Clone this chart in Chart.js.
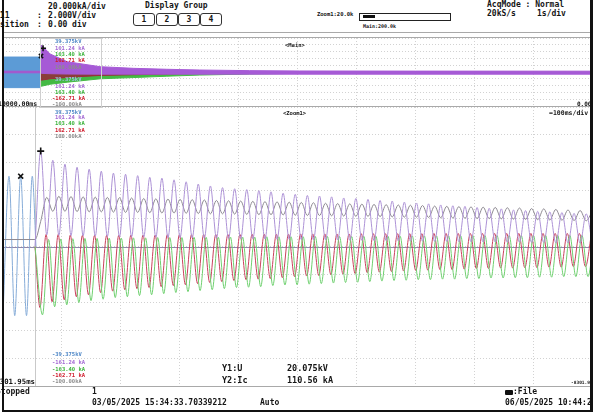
<!DOCTYPE html>
<html>
<head>
<meta charset="utf-8">
<script src="https://cdn.jsdelivr.net/npm/chart.js@4.4.1/dist/chart.umd.min.js"></script>
<style>
  body { margin: 0; background: #fff; }
  #scope { position: relative; width: 599px; height: 417px; overflow: hidden; background: #fff;
           font-family: "DejaVu Sans Mono", monospace; font-weight: bold; color: #151515; }
  .t { position: absolute; white-space: pre; font-size: 8px; line-height: 8px; }
  .s { position: absolute; white-space: pre; font-size: 5.5px; line-height: 6px; }
  .btn { position: absolute; top: 13px; width: 20px; height: 11px; border: 1px solid #333; border-radius: 3px;
         font-size: 8px; line-height: 11px; text-align: center; }
  .hl { position: absolute; height: 1px; background: #a9a9a9; }
  canvas { position: absolute; }
</style>
</head>
<body>
<div id="scope">
  <!-- header -->
  <div class="t" style="left:48px;top:3px">20.000kA/div</div>
  <div class="t" style="left:-5px;top:12px">111</div>
  <div class="t" style="left:37px;top:12px">:</div>
  <div class="t" style="left:48px;top:12px">2.000V/div</div>
  <div class="t" style="left:0px;top:21px">sition</div>
  <div class="t" style="left:37px;top:21px">:</div>
  <div class="t" style="left:48px;top:21px">0.00 div</div>
  <div class="t" style="left:145px;top:2px">Display Group</div>
  <div class="btn" style="left:133px">1</div>
  <div class="btn" style="left:156px">2</div>
  <div class="btn" style="left:178px">3</div>
  <div class="btn" style="left:200px">4</div>
  <div class="s" style="left:317px;top:11px">Zoom1:20.0k</div>
  <div style="position:absolute;left:359px;top:13px;width:90px;height:6px;border:1px solid #222"></div>
  <div style="position:absolute;left:363px;top:15px;width:12px;height:3px;background:#111"></div>
  <div class="s" style="left:363px;top:23px;font-size:5px">Main:200.0k</div>
  <div class="t" style="left:487px;top:1px">AcqMode : Normal</div>
  <div class="t" style="left:487px;top:10px">20kS/s</div>
  <div class="t" style="left:537px;top:10px">1s/div</div>
  <div class="hl" style="left:3px;top:32px;width:589px"></div>

  <canvas id="mainChart" width="589" height="68" style="left:3px;top:38px"></canvas>
  <canvas id="zoomChart" width="589" height="279" style="left:3px;top:107px"></canvas>

  <div class="hl" style="left:3px;top:37px;width:589px"></div>
  <div class="hl" style="left:3px;top:106px;width:589px"></div>
  <div class="hl" style="left:3px;top:386px;width:589px"></div>
  <div style="position:absolute;left:40px;top:38px;width:60px;height:68px;border:1px solid #cfcfcf"></div>

  <!-- panel labels -->
  <div class="s" style="left:285px;top:42px">&lt;Main&gt;</div>
  <div class="s" style="left:283px;top:110px">&lt;Zoom1&gt;</div>
  <div class="s" style="left:577px;top:101px;font-size:6px">0.00</div>
  <div class="s" style="left:549px;top:110px;font-size:6.5px">=100ms/div</div>
  <div class="s" style="left:-2px;top:101px;font-size:6.5px">10000.00ms</div>

  <!-- cursor readouts -->
  <div class="s" style="left:55px;top:38px;color:#4d86c6">39.375kV</div>
  <div class="s" style="left:55px;top:45px;color:#a46ad4">161.24 kA</div>
  <div class="s" style="left:55px;top:51px;color:#3db43d">163.40 kA</div>
  <div class="s" style="left:55px;top:57px;color:#cf1c2c">162.71 kA</div>
  <div class="s" style="left:55px;top:64px;color:#8c8c8c">100.00kA</div>
  <div class="s" style="left:55px;top:76px;color:#9cc0e0">39.375kV</div>
  <div class="s" style="left:55px;top:83px;color:#a46ad4">161.24 kA</div>
  <div class="s" style="left:55px;top:89px;color:#3db43d">163.40 kA</div>
  <div class="s" style="left:52px;top:95px;color:#cf1c2c">-162.71 kA</div>
  <div class="s" style="left:52px;top:101px;color:#8c8c8c">-100.00kA</div>

  <div class="s" style="left:55px;top:109px;color:#4d86c6">39.375kV</div>
  <div class="s" style="left:55px;top:114px;color:#a46ad4">161.24 kA</div>
  <div class="s" style="left:55px;top:120px;color:#3db43d">163.40 kA</div>
  <div class="s" style="left:55px;top:127px;color:#cf1c2c">162.71 kA</div>
  <div class="s" style="left:55px;top:133px;color:#8c8c8c">100.00kA</div>

  <div class="s" style="left:52px;top:351px;color:#4d86c6">-39.375kV</div>
  <div class="s" style="left:52px;top:359px;color:#a46ad4">-161.24 kA</div>
  <div class="s" style="left:52px;top:366px;color:#3db43d">-163.40 kA</div>
  <div class="s" style="left:52px;top:372px;color:#cf1c2c">-162.71 kA</div>
  <div class="s" style="left:52px;top:378px;color:#8c8c8c">-100.00kA</div>

  <div class="t" style="left:-9px;top:378px;font-size:7.3px">-8301.95ms</div>
  <div class="s" style="left:571px;top:380px;font-size:4.5px">-8301.95ms</div>
  <div class="t" style="left:222px;top:364px;font-size:8.5px">Y1:U</div>
  <div class="t" style="left:287px;top:364px;font-size:8.5px">20.075kV</div>
  <div class="t" style="left:222px;top:376px;font-size:8.5px">Y2:Ic</div>
  <div class="t" style="left:287px;top:376px;font-size:8.5px">110.56 kA</div>

  <!-- footer -->
  <div class="t" style="left:-4px;top:388px">Stopped</div>
  <div class="t" style="left:92px;top:388px">1</div>
  <div class="t" style="left:92px;top:399px">03/05/2025 15:34:33.70339212</div>
  <div class="t" style="left:260px;top:399px">Auto</div>
  <div style="position:absolute;left:505px;top:390px;width:8px;height:5px;background:#111;border-radius:1px"></div>
  <div class="t" style="left:513px;top:388px">:File</div>
  <div class="t" style="left:505px;top:399px">06/05/2025 10:44:23</div>

  <!-- frame -->
  <div style="position:absolute;left:2px;top:0;width:2px;height:412px;background:#111"></div>
  <div style="position:absolute;left:2px;top:410px;width:592px;height:2px;background:#111"></div>
  <div style="position:absolute;left:590px;top:0;width:3px;height:412px;background:#111"></div>
  <div style="position:absolute;left:593px;top:0;width:6px;height:417px;background:#fff"></div>
</div>

<script>
// ---- zoom window (100 ms/div), values in divisions ----
const triggerMs = 54.3;
const halfCycleMs = 10.29;

const voltTimes  = [0, 10.2, 19.9, 30.05, 39.9, 49.7, 56];
const voltValues = [-2.48, 2.52, -2.48, 2.52, -2.48, 2.52, 0];

const purpleStartMs = 64.0;
const purplePeaks = [3.42,3.09,2.95,2.84,2.77,2.70,2.63,2.59,2.54,2.48,2.45,2.39,2.32,2.24,2.17,2.11,2.07,2.04,2.00,1.96,
  1.91,1.87,1.83,1.81,1.78,1.74,1.72,1.69,1.65,1.63,1.59,1.56,1.53,1.49,1.46,1.44,1.40,1.37,1.35,1.31,1.29,1.26,1.24,1.22,1.19,1.17];
const purpleTroughs = [0.42,0.40,0.39,0.38,0.37,0.36,0.35,0.35,0.34,0.33,0.32,0.32,0.31,0.30,0.30,0.29,0.28,0.28,0.27,0.26,
  0.26,0.25,0.24,0.24,0.23,0.22,0.22,0.21,0.21,0.20,0.19,0.19,0.18,0.18,0.17,0.17,0.16,0.16,0.15,0.15,0.14,0.14,0.13,0.13,0.12,0.12];

const redStartMs = 62.8;
const redTroughs = [-2.19,-1.98,-1.91,-1.80,-1.73,-1.65,-1.60,-1.55,-1.51,-1.47,-1.44,-1.40,-1.37,-1.33,-1.29,-1.26,-1.22,-1.19,-1.17,-1.15,
  -1.12,-1.08,-1.06,-1.04,-1.01,-0.99,-0.97,-0.94,-0.92,-0.90,-0.88,-0.86,-0.85,-0.83,-0.83,-0.81,-0.79,-0.79,-0.77,-0.77,-0.76,-0.76,-0.74,-0.74,-0.72,-0.72];
const redPeaks = [0.43,0.43,0.41,0.40,0.40,0.40,0.40,0.41,0.41,0.41,0.42,0.42,0.42,0.43,0.43,0.43,0.43,0.44,0.44,0.44,
  0.44,0.45,0.45,0.45,0.45,0.45,0.46,0.46,0.46,0.46,0.46,0.46,0.47,0.47,0.47,0.47,0.47,0.47,0.47,0.47,0.47,0.47,0.47,0.47,0.47,0.47];

const greenStartMs = 67.1;
const greenTroughs = [-2.45,-2.16,-2.09,-2.01,-1.94,-1.89,-1.83,-1.80,-1.76,-1.73,-1.69,-1.65,-1.62,-1.58,-1.55,-1.51,-1.47,-1.46,-1.44,-1.40,
  -1.38,-1.37,-1.35,-1.33,-1.31,-1.29,-1.28,-1.26,-1.24,-1.22,-1.21,-1.19,-1.19,-1.17,-1.17,-1.15,-1.15,-1.13,-1.13,-1.12,-1.12,-1.10,-1.10,-1.08,-1.08,-1.08];
const greenPeaks = [0.25,0.27,0.28,0.29,0.29,0.30,0.30,0.31,0.31,0.32,0.32,0.32,0.33,0.33,0.33,0.34,0.34,0.34,0.35,0.35,
  0.35,0.35,0.36,0.36,0.36,0.36,0.37,0.37,0.37,0.37,0.38,0.38,0.38,0.38,0.38,0.39,0.39,0.39,0.39,0.39,0.40,0.40,0.40,0.40,0.40,0.40];

const grayPreLevel = 0.25;
const grayStartMs = 64.0;
const grayTroughs = [0.90,1.26,1.26,1.25,1.24,1.24,1.23,1.22,1.22,1.21,1.20,1.20,1.19,1.18,1.17,1.17,1.16,1.15,1.14,1.14,
  1.13,1.12,1.11,1.11,1.10,1.09,1.08,1.08,1.07,1.06,1.05,1.05,1.04,1.03,1.02,1.01,1.00,1.00,0.99,0.98,0.97,0.96,0.95,0.94,0.93,0.92];
const grayPeaks = [1.76,1.80,1.79,1.78,1.77,1.76,1.75,1.74,1.72,1.71,1.70,1.69,1.68,1.67,1.65,1.64,1.63,1.62,1.61,1.60,
  1.59,1.58,1.57,1.55,1.54,1.53,1.52,1.51,1.50,1.49,1.48,1.47,1.45,1.44,1.43,1.42,1.41,1.40,1.39,1.38,1.36,1.35,1.33,1.31,1.29,1.27];

// ---- main window (1 s/div), envelope of the dense trace ----
const mainTimes = [0, 0.64, 0.65, 0.80, 1.09, 1.65, 2.21, 2.78, 3.34, 4.19, 5.04, 7.0, 10.0];
const purpleHi  = [0.12, 0.12, 3.97, 2.65, 1.51, 0.78, 0.54, 0.40, 0.29, 0.20, 0.15, 0.13, 0.12];
const purpleLo  = [-0.12, -0.12, -0.20, -0.25, -0.30, -0.32, -0.32, -0.32, -0.32, -0.32, -0.32, -0.32, -0.32];
const redLo     = [0, 0, -1.20, -1.00, -0.80, -0.50, -0.40, -0.30, -0.18, -0.10, -0.05, -0.03, -0.03];
const greenLo   = [0, 0, -2.10, -1.80, -1.50, -1.00, -0.82, -0.62, -0.45, -0.30, -0.20, -0.10, -0.08];
const voltBandTimes = [0, 0.645];
const voltBandHi = [2.2, 2.2];
const voltBandLo = [-2.3, -2.3];
const dullFromSec = 8.1;

const mainCursors = [{x: 0.68, y: 3.5}, {x: 0.645, y: 2.35}];

function wave(t0, first, second, lead) {
  const pts = lead.slice();
  first.forEach((v, i) => {
    pts.push({x: t0 + 2 * i * halfCycleMs, y: v});
    pts.push({x: t0 + (2 * i + 1) * halfCycleMs, y: second[i]});
  });
  return pts;
}
const zip = (xs, ys) => xs.map((x, i) => ({x, y: ys[i]}));

const refLines = {
  id: 'refLines',
  beforeDatasetsDraw(chart, args, opts) {
    const {ctx, chartArea, scales} = chart;
    ctx.save();
    ctx.lineWidth = 1;
    if (opts.zeroColor) {
      const y = Math.round(scales.y.getPixelForValue(0)) + 0.5;
      ctx.strokeStyle = opts.zeroColor;
      ctx.beginPath(); ctx.moveTo(chartArea.left, y); ctx.lineTo(chartArea.right, y); ctx.stroke();
    }
    if (opts.trigger != null) {
      const x = Math.round(scales.x.getPixelForValue(opts.trigger)) + 0.5;
      ctx.strokeStyle = '#c9c9c9';
      ctx.beginPath(); ctx.moveTo(x, chartArea.top); ctx.lineTo(x, chartArea.bottom); ctx.stroke();
    }
    ctx.restore();
  }
};

function scaleOpts(min, max, step) {
  return {
    type: 'linear', min, max,
    ticks: {display: false, stepSize: step},
    grid: {color: '#d2d2d2', drawTicks: false, lineWidth: 1},
    border: {display: false, dash: [1, 2]}
  };
}
const baseOpts = (xmax, xstep, plugOpts) => ({
  responsive: false, animation: false, events: [],
  layout: {padding: 0, autoPadding: false},
  elements: {point: {radius: 0}, line: {borderWidth: 1}},
  plugins: {legend: {display: false}, tooltip: {enabled: false}, refLines: plugOpts},
  scales: {x: scaleOpts(0, xmax, xstep), y: scaleOpts(-5, 5, 1)}
});

// lower, zoomed window
const lead0 = [{x: triggerMs, y: 0}];
new Chart(document.getElementById('zoomChart'), {
  type: 'line',
  data: {datasets: [
    {type: 'scatter', data: [{x: purpleStartMs, y: purplePeaks[0]}], pointStyle: 'cross', pointRadius: 3.5,
     borderColor: '#111', borderWidth: 1.6, showLine: false},
    {type: 'scatter', data: [{x: voltTimes[3], y: voltValues[3]}], pointStyle: 'crossRot', pointRadius: 3.5,
     borderColor: '#111', borderWidth: 1.6, showLine: false},
    {data: wave(purpleStartMs, purplePeaks, purpleTroughs, lead0), borderColor: '#ad92d6', cubicInterpolationMode: 'monotone'},
    {data: wave(grayStartMs, grayTroughs, grayPeaks, [{x: 0, y: grayPreLevel}, {x: triggerMs, y: grayPreLevel}]),
     borderColor: '#8e8a92', cubicInterpolationMode: 'monotone'},
    {data: wave(greenStartMs, greenTroughs, greenPeaks, lead0), borderColor: '#6fd06f', cubicInterpolationMode: 'monotone'},
    {data: wave(redStartMs, redTroughs, redPeaks, lead0), borderColor: '#c9405c', cubicInterpolationMode: 'monotone'},
    {data: zip(voltTimes, voltValues), borderColor: '#86acd8', cubicInterpolationMode: 'monotone'}
  ]},
  options: baseOpts(1000, 100, {zeroColor: '#8f86ab', trigger: triggerMs}),
  plugins: [refLines]
});

// upper, main window
const segColor = (bright, dull) => ({borderColor: c => c.p0.parsed.x >= dullFromSec ? dull : bright});
new Chart(document.getElementById('mainChart'), {
  type: 'line',
  data: {datasets: [
    {type: 'scatter', data: [mainCursors[0]], pointStyle: 'cross', pointRadius: 3, borderColor: '#111', borderWidth: 1.5, showLine: false},
    {type: 'scatter', data: [mainCursors[1]], pointStyle: 'crossRot', pointRadius: 3, borderColor: '#111', borderWidth: 1.5, showLine: false},
    {data: zip(mainTimes, purpleHi), borderColor: '#a65ad6', backgroundColor: '#a65ad6', fill: '+1',
     segment: segColor('#a65ad6', '#7e70a2')},
    {data: zip(mainTimes, purpleLo), borderColor: '#a65ad6', segment: segColor('#a65ad6', '#7e70a2')},
    {data: zip(mainTimes, redLo), borderColor: '#9c2c3c', backgroundColor: 'rgba(150,40,55,0.85)', fill: 'origin'},
    {data: zip(mainTimes, greenLo), borderColor: '#44b944', backgroundColor: '#44b944', fill: 'origin'},
    {data: zip(voltBandTimes, voltBandHi), borderColor: '#5c9bd6', backgroundColor: '#5c9bd6', fill: '+1'},
    {data: zip(voltBandTimes, voltBandLo), borderColor: '#5c9bd6'}
  ]},
  options: baseOpts(10, 1, {}),
  plugins: [refLines]
});
</script>
</body>
</html>
